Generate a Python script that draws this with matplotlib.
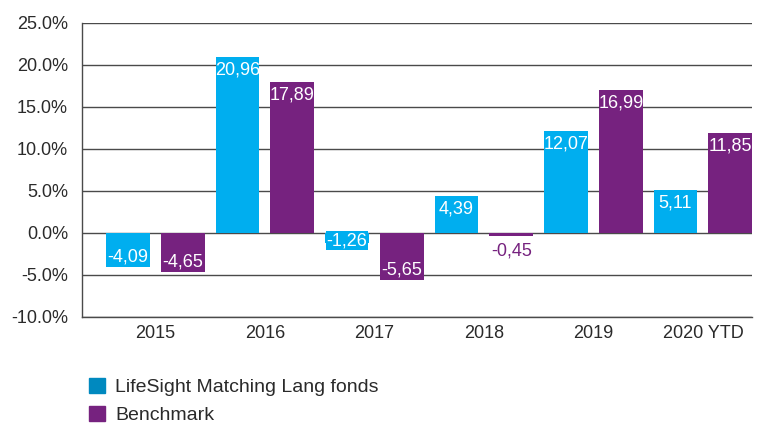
import matplotlib
matplotlib.use('Agg')
import matplotlib.pyplot as plt
from matplotlib.patches import Patch
import numpy as np

# data
years = ['2015', '2016', '2017', '2018', '2019', '2020 YTD']
lifesight = [-4.09, 20.96, -1.26, 4.39, 12.07, 5.11]
benchmark = [-4.65, 17.89, -5.65, -0.45, 16.99, 11.85]
series_names = ['LifeSight Matching Lang fonds', 'Benchmark']
yticks = [-10, -5, 0, 5, 10, 15, 20, 25]

CYAN = '#00AEEF'
CYAN_LEGEND = '#0089BF'
PURPLE = '#76227F'
TEXT = '#2a2a2a'
GRID = '#4a4a4a'

plt.rcParams['font.family'] = ['Liberation Sans', 'DejaVu Sans']

fig = plt.figure(figsize=(7.59, 4.23), dpi=100)
ax = fig.add_axes([0.108, 0.2515, 0.883, 0.695])

x = np.arange(len(years))
w = 0.40
off = 0.25


def put_label(xpos, v, color):
    # label inside the bar end; tiny bars get it outside in bar colour
    s = f'{v:.2f}'.replace('.', ',')
    if abs(v) < 1:
        ax.text(xpos, v - 1.75, s, ha='center', va='center', color=color, fontsize=13, zorder=4)
    elif abs(v) < 3:
        # short bar: label sits on a box of the bar colour
        ax.text(xpos, -0.95, s, ha='center', va='center', color='white', fontsize=13, zorder=4,
                bbox=dict(facecolor=color, edgecolor='none', pad=0.6))
    else:
        y = v - 1.55 if v > 0 else v + 1.2
        ax.text(xpos, y, s, ha='center', va='center', color='white', fontsize=13, zorder=4)


ax.bar(x - off, lifesight, width=w, color=CYAN, zorder=3)
ax.bar(x + off, benchmark, width=w, color=PURPLE, zorder=3)
for i in range(len(years)):
    put_label(x[i] - off, lifesight[i], PURPLE if abs(lifesight[i]) < 1 else CYAN)
    put_label(x[i] + off, benchmark[i], PURPLE)

ax.set_ylim(-10, 25)
ax.set_xlim(-0.67, 5.45)
ax.set_yticks(yticks)
ax.set_yticklabels([f'{t:.1f}%' for t in yticks])
ax.set_xticks(x)
ax.set_xticklabels(years)
ax.tick_params(axis='y', length=0, pad=10, labelsize=13, labelcolor=TEXT)
ax.tick_params(axis='x', length=0, pad=6, labelsize=13, labelcolor=TEXT)

ax.yaxis.grid(True, color=GRID, linewidth=1, zorder=0)
for side in ['top', 'right']:
    ax.spines[side].set_visible(False)
ax.spines['left'].set_color(GRID)
ax.spines['bottom'].set_color(GRID)
ax.spines['left'].set_linewidth(1)
ax.spines['bottom'].set_linewidth(1)

handles = [Patch(color=CYAN_LEGEND), Patch(color=PURPLE)]
fig.legend(handles, series_names, loc='upper left', bbox_to_anchor=(0.107, 0.125),
           frameon=False, fontsize=14, handlelength=0.8, handleheight=0.8,
           handletextpad=0.55, labelspacing=0.5, labelcolor=TEXT, borderaxespad=0)

fig.savefig('out.png', dpi=100)
